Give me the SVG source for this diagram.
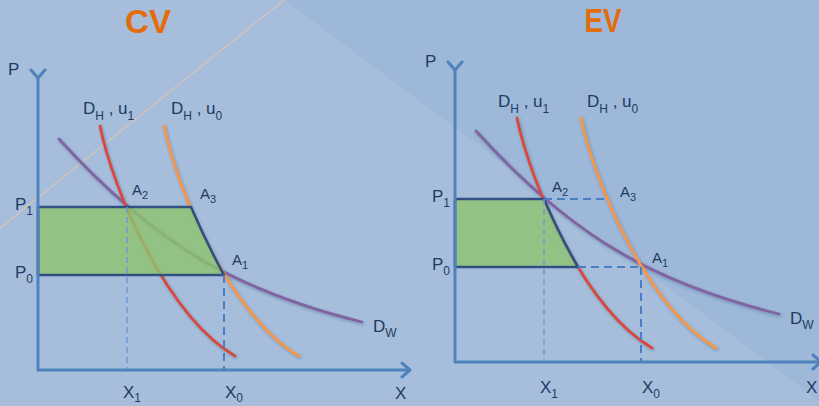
<svg xmlns="http://www.w3.org/2000/svg" width="819" height="406" viewBox="0 0 819 406">
<style>
text{font-family:"Liberation Sans",Arial,sans-serif;fill:#1f3b63;font-size:17px}
.sub{font-size:12px}
.title{font-size:34px;font-weight:bold;fill:#e46c0a}
.a{font-size:15px}
.a .sub{font-size:11px}
.axis{fill:none;stroke:#4f81bd;stroke-width:3}
.curve{fill:none;stroke-width:2.8;stroke-linecap:round}
.red{stroke:#d9483b}
.orange{stroke:#f79646}
.purple{stroke:#8064a2}
.area{fill:#8fc46e;fill-opacity:0.8;stroke:#2f5080;stroke-width:2.6;stroke-linejoin:round}
.dash{fill:none;stroke:#4a7ec4;stroke-width:2;stroke-dasharray:8 5}
.thin{fill:none;stroke:#6f9bd4;stroke-width:1.5;stroke-dasharray:6 4}
</style>
<defs>
<marker id="arr" markerUnits="userSpaceOnUse" markerWidth="20" markerHeight="20" refX="10" refY="10" orient="auto" viewBox="0 0 20 20">
<path d="M2,3 L10,10 L2,17" fill="none" stroke="#4f81bd" stroke-width="3" stroke-linecap="round" stroke-linejoin="round"/>
</marker>
<filter id="sh" x="-10%" y="-10%" width="120%" height="120%">
<feDropShadow dx="1" dy="1.5" stdDeviation="1.5" flood-color="#1f3b63" flood-opacity="0.35"/>
</filter>
</defs>
<g id="background">
<rect x="0" y="0" width="819" height="406" fill="#a6bedb"/>
<polygon points="285,0 819,0 819,401" fill="#9db8d8"/>
<line x1="0" y1="228" x2="284" y2="0" stroke="#f2c6a0" stroke-width="1"/>
</g>
<g id="cv-panel">
<text class="title" x="148" y="33" text-anchor="middle" textLength="46" lengthAdjust="spacingAndGlyphs">CV</text>
<g id="cv-curves" filter="url(#sh)">
<path class="curve purple" d="M59,139 C159,249 242,292 362,322"/>
<path class="curve red" d="M100,126 C113,190 166,315 235,356"/>
<path class="curve orange" d="M164,126 C177,190 230,315 299,356"/>
</g>
<g id="cv-area">
<path class="area" d="M38,207 L191,207 Q207,244 224,275 L38,275 Z"/>
</g>
<g id="cv-connectors">
<line class="thin" x1="127" y1="207" x2="127" y2="370"/>
<line class="dash" x1="224" y1="275" x2="224" y2="370"/>
</g>
<g id="cv-axes">
<polyline class="axis" points="38,78 38,370 410,370" marker-start="url(#arr)" marker-end="url(#arr)" stroke-linejoin="round"/>
</g>
<g id="cv-labels">
<text x="8" y="75">P</text>
<text x="395" y="399">X</text>
<text x="15" y="210">P<tspan class="sub" dy="5">1</tspan></text>
<text x="15" y="278">P<tspan class="sub" dy="5">0</tspan></text>
<text x="83" y="114">D<tspan class="sub" dy="6">H</tspan><tspan dy="-6"> , u</tspan><tspan class="sub" dy="6">1</tspan></text>
<text x="171" y="114">D<tspan class="sub" dy="6">H</tspan><tspan dy="-6"> , u</tspan><tspan class="sub" dy="6">0</tspan></text>
<text class="a" x="132" y="195">A<tspan class="sub" dy="4">2</tspan></text>
<text class="a" x="200" y="199">A<tspan class="sub" dy="4">3</tspan></text>
<text class="a" x="232" y="265">A<tspan class="sub" dy="4">1</tspan></text>
<text x="373" y="332">D<tspan class="sub" dy="5">W</tspan></text>
<text x="123" y="398">X<tspan class="sub" dy="4">1</tspan></text>
<text x="225" y="398">X<tspan class="sub" dy="4">0</tspan></text>
</g>
</g>
<g id="ev-panel">
<text class="title" x="603" y="32" text-anchor="middle" textLength="37" lengthAdjust="spacingAndGlyphs">EV</text>
<g transform="translate(417,-8)">
<g id="ev-curves" filter="url(#sh)">
<path class="curve purple" d="M59,139 C159,249 242,292 362,322"/>
<path class="curve red" d="M100,126 C113,190 166,315 235,356"/>
<path class="curve orange" d="M164,126 C177,190 230,315 299,356"/>
</g>
<g id="ev-area">
<path class="area" d="M38,207 L127,207 Q143,244 161,275 L38,275 Z"/>
</g>
<g id="ev-connectors">
<line class="thin" x1="127" y1="207" x2="127" y2="370"/>
<line class="dash" x1="127" y1="207" x2="191" y2="207"/>
<line class="dash" x1="161" y1="275" x2="224" y2="275"/>
<line class="dash" x1="224" y1="275" x2="224" y2="370"/>
</g>
<g id="ev-axes">
<polyline class="axis" points="38,78 38,370 404,370" marker-start="url(#arr)" marker-end="url(#arr)" stroke-linejoin="round"/>
</g>
</g>
<g id="ev-labels">
<text x="425" y="67">P</text>
<text x="806" y="393">X</text>
<text x="432" y="202">P<tspan class="sub" dy="5">1</tspan></text>
<text x="432" y="270">P<tspan class="sub" dy="5">0</tspan></text>
<text x="498" y="107">D<tspan class="sub" dy="6">H</tspan><tspan dy="-6"> , u</tspan><tspan class="sub" dy="6">1</tspan></text>
<text x="587" y="107">D<tspan class="sub" dy="6">H</tspan><tspan dy="-6"> , u</tspan><tspan class="sub" dy="6">0</tspan></text>
<text class="a" x="552" y="192">A<tspan class="sub" dy="4">2</tspan></text>
<text class="a" x="620" y="197">A<tspan class="sub" dy="4">3</tspan></text>
<text class="a" x="652" y="263">A<tspan class="sub" dy="4">1</tspan></text>
<text x="790" y="324">D<tspan class="sub" dy="5">W</tspan></text>
<text x="540" y="393">X<tspan class="sub" dy="5">1</tspan></text>
<text x="642" y="393">X<tspan class="sub" dy="5">0</tspan></text>
</g>
</g>
</svg>
